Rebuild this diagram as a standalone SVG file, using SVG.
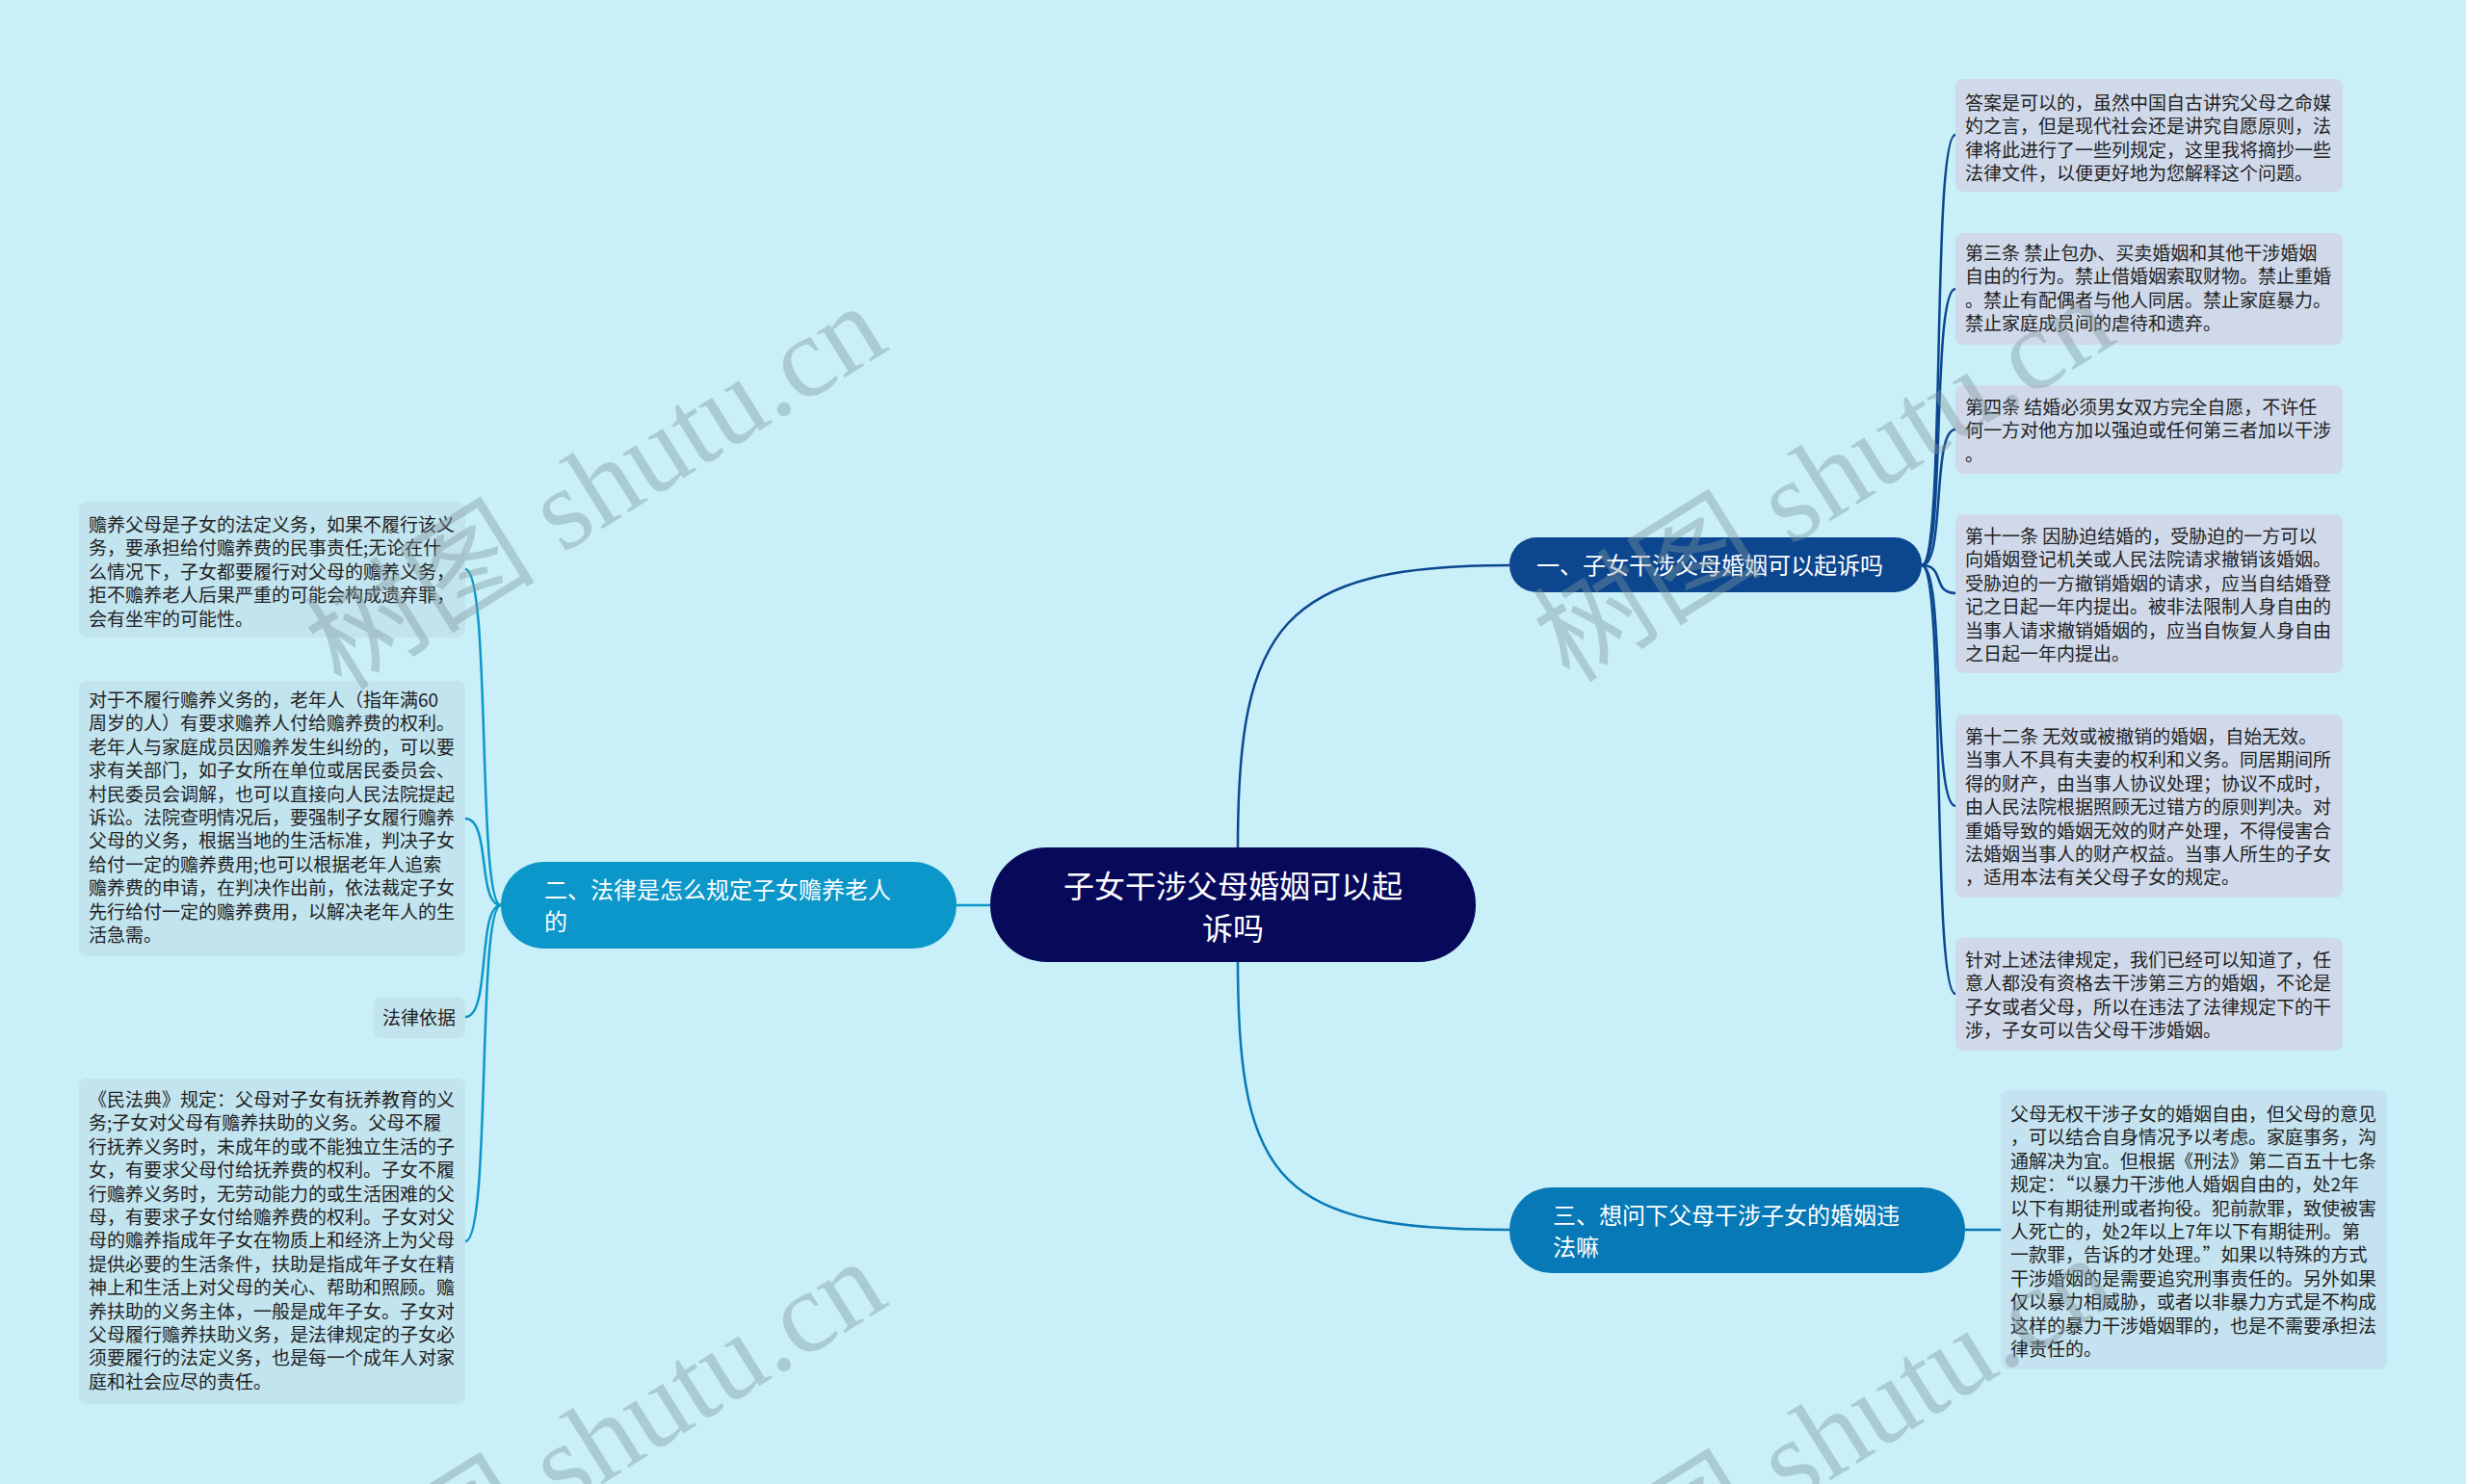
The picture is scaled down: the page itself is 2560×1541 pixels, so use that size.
<svg xmlns="http://www.w3.org/2000/svg" width="2560" height="1541" viewBox="0 0 2560 1541">
<style>
.bg{fill:#c9eff8}
.wm{font-family:"Liberation Serif","Noto Sans CJK SC",serif;font-size:120px;fill:#7f969c;opacity:0.4}
.t{font-family:"Noto Sans CJK SC","Noto Sans",sans-serif;font-size:19px;fill:#222}
.rb{fill:#d0d9ea}
.lb{fill:#c2e4ef}
.nt{font-family:"Noto Sans CJK SC","Noto Sans",sans-serif;fill:#fff}
.c{fill:none;stroke-width:2.5}
</style>
<rect class="bg" x="0" y="0" width="2560" height="1541"/>
<g id="connectors">
<path class="c" stroke="#0c468f" d="M1285,880 C1285,650 1330,587 1567,587"/>
<path class="c" stroke="#0679b6" d="M1285,999 C1285,1230 1330,1277 1567,1277"/>
<path class="c" stroke="#0b97c9" d="M1028,940 L993,940"/>
<g stroke="#0c468f">
<path class="c" d="M1995,587 C2020,587 2005,140 2030,140"/>
<path class="c" d="M1995,587 C2020,587 2005,300 2030,300"/>
<path class="c" d="M1995,587 C2020,587 2005,446 2030,446"/>
<path class="c" d="M1995,587 C2020,587 2005,616 2030,616"/>
<path class="c" d="M1995,587 C2020,587 2005,837 2030,837"/>
<path class="c" d="M1995,587 C2020,587 2005,1032 2030,1032"/>
</g>
<path class="c" stroke="#0679b6" d="M2040,1277 L2077,1277"/>
<g stroke="#0b97c9">
<path class="c" d="M520,940 C495,940 510,591 483,591"/>
<path class="c" d="M520,940 C495,940 510,850 483,850"/>
<path class="c" d="M520,940 C495,940 510,1056 483,1056"/>
<path class="c" d="M520,940 C495,940 510,1289 483,1289"/>
</g>
</g>
<g id="center">
<rect x="1028" y="880" width="504" height="119" rx="59" fill="#07095b"/>
<text class="nt" font-size="32" text-anchor="middle"><tspan x="1280" y="932">子女干涉父母婚姻可以起</tspan><tspan x="1280" y="976">诉吗</tspan></text>
</g>
<g id="branch1">
<rect x="1567" y="558" width="428" height="57" rx="28" fill="#0c468f"/>
<text class="nt" font-size="24" x="1595" y="596">一、子女干涉父母婚姻可以起诉吗</text>
</g>
<g id="branch2">
<rect x="520" y="895" width="473" height="90" rx="45" fill="#0b97c9"/>
<text class="nt" font-size="24"><tspan x="565" y="933">二、法律是怎么规定子女赡养老人</tspan><tspan x="565" y="966">的</tspan></text>
</g>
<g id="branch3">
<rect x="1567" y="1233" width="473" height="89" rx="44" fill="#0679b6"/>
<text class="nt" font-size="24"><tspan x="1612" y="1271">三、想问下父母干涉子女的婚姻违</tspan><tspan x="1612" y="1304">法嘛</tspan></text>
</g>
<g id="r1">
<rect class="rb" x="2030" y="82" width="402" height="117" rx="8"/>
<text class="t"><tspan x="2040" y="114">答案是可以的，虽然中国自古讲究父母之命媒</tspan><tspan x="2040" y="138.4">妁之言，但是现代社会还是讲究自愿原则，法</tspan><tspan x="2040" y="162.8">律将此进行了一些列规定，这里我将摘抄一些</tspan><tspan x="2040" y="187.2">法律文件，以便更好地为您解释这个问题。</tspan></text>
</g>
<g id="r2">
<rect class="rb" x="2030" y="242" width="402" height="116" rx="8"/>
<text class="t"><tspan x="2040" y="270">第三条 禁止包办、买卖婚姻和其他干涉婚姻</tspan><tspan x="2040" y="294.4">自由的行为。禁止借婚姻索取财物。禁止重婚</tspan><tspan x="2040" y="318.8">。禁止有配偶者与他人同居。禁止家庭暴力。</tspan><tspan x="2040" y="343.2">禁止家庭成员间的虐待和遗弃。</tspan></text>
</g>
<g id="r3">
<rect class="rb" x="2030" y="400" width="402" height="92" rx="8"/>
<text class="t"><tspan x="2040" y="430">第四条 结婚必须男女双方完全自愿，不许任</tspan><tspan x="2040" y="454.4">何一方对他方加以强迫或任何第三者加以干涉</tspan><tspan x="2040" y="478.8">。</tspan></text>
</g>
<g id="r4">
<rect class="rb" x="2030" y="534" width="402" height="165" rx="8"/>
<text class="t"><tspan x="2040" y="564">第十一条 因胁迫结婚的，受胁迫的一方可以</tspan><tspan x="2040" y="588.4">向婚姻登记机关或人民法院请求撤销该婚姻。</tspan><tspan x="2040" y="612.8">受胁迫的一方撤销婚姻的请求，应当自结婚登</tspan><tspan x="2040" y="637.2">记之日起一年内提出。被非法限制人身自由的</tspan><tspan x="2040" y="661.6">当事人请求撤销婚姻的，应当自恢复人身自由</tspan><tspan x="2040" y="686">之日起一年内提出。</tspan></text>
</g>
<g id="r5">
<rect class="rb" x="2030" y="742" width="402" height="190" rx="8"/>
<text class="t"><tspan x="2040" y="772">第十二条 无效或被撤销的婚姻，自始无效。</tspan><tspan x="2040" y="796.4">当事人不具有夫妻的权利和义务。同居期间所</tspan><tspan x="2040" y="820.8">得的财产，由当事人协议处理；协议不成时，</tspan><tspan x="2040" y="845.2">由人民法院根据照顾无过错方的原则判决。对</tspan><tspan x="2040" y="869.6">重婚导致的婚姻无效的财产处理，不得侵害合</tspan><tspan x="2040" y="894">法婚姻当事人的财产权益。当事人所生的子女</tspan><tspan x="2040" y="918.4">，适用本法有关父母子女的规定。</tspan></text>
</g>
<g id="r6">
<rect class="rb" x="2030" y="974" width="402" height="117" rx="8"/>
<text class="t"><tspan x="2040" y="1004">针对上述法律规定，我们已经可以知道了，任</tspan><tspan x="2040" y="1028.4">意人都没有资格去干涉第三方的婚姻，不论是</tspan><tspan x="2040" y="1052.8">子女或者父母，所以在违法了法律规定下的干</tspan><tspan x="2040" y="1077.2">涉，子女可以告父母干涉婚姻。</tspan></text>
</g>
<g id="r7">
<rect x="2077" y="1132" width="401" height="290" rx="8" fill="#c4e2ef"/>
<text class="t"><tspan x="2087" y="1164">父母无权干涉子女的婚姻自由，但父母的意见</tspan><tspan x="2087" y="1188.4">，可以结合自身情况予以考虑。家庭事务，沟</tspan><tspan x="2087" y="1212.8">通解决为宜。但根据《刑法》第二百五十七条</tspan><tspan x="2087" y="1237.2">规定：“以暴力干涉他人婚姻自由的，处2年</tspan><tspan x="2087" y="1261.6">以下有期徒刑或者拘役。犯前款罪，致使被害</tspan><tspan x="2087" y="1286">人死亡的，处2年以上7年以下有期徒刑。第</tspan><tspan x="2087" y="1310.4">一款罪，告诉的才处理。”如果以特殊的方式</tspan><tspan x="2087" y="1334.8">干涉婚姻的是需要追究刑事责任的。另外如果</tspan><tspan x="2087" y="1359.2">仅以暴力相威胁，或者以非暴力方式是不构成</tspan><tspan x="2087" y="1383.6">这样的暴力干涉婚姻罪的，也是不需要承担法</tspan><tspan x="2087" y="1408">律责任的。</tspan></text>
</g>
<g id="l1">
<rect class="lb" x="82" y="521" width="401" height="141" rx="8"/>
<text class="t"><tspan x="92" y="552">赡养父母是子女的法定义务，如果不履行该义</tspan><tspan x="92" y="576.4">务，要承担给付赡养费的民事责任;无论在什</tspan><tspan x="92" y="600.8">么情况下，子女都要履行对父母的赡养义务，</tspan><tspan x="92" y="625.2">拒不赡养老人后果严重的可能会构成遗弃罪，</tspan><tspan x="92" y="649.6">会有坐牢的可能性。</tspan></text>
</g>
<g id="l2">
<rect class="lb" x="82" y="707" width="401" height="286" rx="8"/>
<text class="t"><tspan x="92" y="734">对于不履行赡养义务的，老年人（指年满60</tspan><tspan x="92" y="758.4">周岁的人）有要求赡养人付给赡养费的权利。</tspan><tspan x="92" y="782.8">老年人与家庭成员因赡养发生纠纷的，可以要</tspan><tspan x="92" y="807.2">求有关部门，如子女所在单位或居民委员会、</tspan><tspan x="92" y="831.6">村民委员会调解，也可以直接向人民法院提起</tspan><tspan x="92" y="856">诉讼。法院查明情况后，要强制子女履行赡养</tspan><tspan x="92" y="880.4">父母的义务，根据当地的生活标准，判决子女</tspan><tspan x="92" y="904.8">给付一定的赡养费用;也可以根据老年人追索</tspan><tspan x="92" y="929.2">赡养费的申请，在判决作出前，依法裁定子女</tspan><tspan x="92" y="953.6">先行给付一定的赡养费用，以解决老年人的生</tspan><tspan x="92" y="978">活急需。</tspan></text>
</g>
<g id="l3">
<rect class="lb" x="388" y="1035" width="95" height="43" rx="8"/>
<text class="t" x="473" y="1064" text-anchor="end">法律依据</text>
</g>
<g id="l4">
<rect class="lb" x="82" y="1120" width="401" height="338" rx="8"/>
<text class="t"><tspan x="92" y="1149">《民法典》规定：父母对子女有抚养教育的义</tspan><tspan x="92" y="1173.4">务;子女对父母有赡养扶助的义务。父母不履</tspan><tspan x="92" y="1197.8">行抚养义务时，未成年的或不能独立生活的子</tspan><tspan x="92" y="1222.2">女，有要求父母付给抚养费的权利。子女不履</tspan><tspan x="92" y="1246.6">行赡养义务时，无劳动能力的或生活困难的父</tspan><tspan x="92" y="1271">母，有要求子女付给赡养费的权利。子女对父</tspan><tspan x="92" y="1295.4">母的赡养指成年子女在物质上和经济上为父母</tspan><tspan x="92" y="1319.8">提供必要的生活条件，扶助是指成年子女在精</tspan><tspan x="92" y="1344.2">神上和生活上对父母的关心、帮助和照顾。赡</tspan><tspan x="92" y="1368.6">养扶助的义务主体，一般是成年子女。子女对</tspan><tspan x="92" y="1393">父母履行赡养扶助义务，是法律规定的子女必</tspan><tspan x="92" y="1417.4">须要履行的法定义务，也是每一个成年人对家</tspan><tspan x="92" y="1441.8">庭和社会应尽的责任。</tspan></text>
</g>
<g id="watermarks">
<text class="wm" x="640" y="540" text-anchor="middle" transform="rotate(-32 640 540)">树图 shutu.cn</text>
<text class="wm" x="1915" y="532" text-anchor="middle" transform="rotate(-32 1915 532)">树图 shutu.cn</text>
<text class="wm" x="640" y="1532" text-anchor="middle" transform="rotate(-32 640 1532)">树图 shutu.cn</text>
<text class="wm" x="1915" y="1528" text-anchor="middle" transform="rotate(-32 1915 1528)">树图 shutu.cn</text>
</g>
</svg>
